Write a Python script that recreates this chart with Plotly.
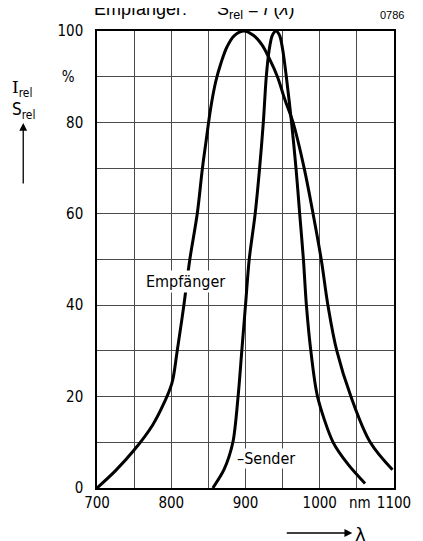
import plotly.graph_objects as go

# Receiver (Empfänger) relative spectral sensitivity
wl_empf = [700, 725, 750, 775, 790, 801, 808, 817, 825, 835, 842, 847, 853, 860, 867, 875, 885, 898,
           911, 922, 932, 943, 953, 964, 979, 991, 1002, 1011, 1023, 1042, 1068, 1098]
val_empf = [0, 3.8, 8.3, 13.8, 18.5, 23, 30, 40, 50, 60, 70, 76, 83, 89, 93, 96.5, 99, 100,
            99, 97, 94, 90, 85, 80, 70, 60, 50, 40, 30, 20, 10, 4]

# Emitter (Sender) relative intensity
wl_send = [856, 871, 883, 890, 895, 900, 905, 913, 919, 924, 928, 932, 936, 941, 946, 950,
           955, 962, 968, 973, 978, 982, 988, 997, 1018, 1039, 1061]
val_send = [0, 4, 10, 20, 30, 40, 50, 60, 70, 80, 90, 96, 99, 100, 99, 96,
            90, 80, 70, 60, 50, 40, 30, 20, 10, 5, 1]

x_ticks = [700, 750, 800, 850, 900, 950, 1000, 1050, 1100]
x_labels = ["700", "", "800", "", "900", "", "1000", "", "1100"]
y_ticks = [0, 10, 20, 30, 40, 50, 60, 70, 80, 90, 100]
y_labels = ["0", "", "20", "", "40", "", "60", "", "80", "%\u00a0\u00a0", "100"]

DIN = "DejaVu Sans Condensed, Liberation Sans Narrow, DejaVu Sans, sans-serif"
HELV = "Liberation Sans, Arial, sans-serif"

fig = go.Figure()
fig.add_trace(go.Scatter(x=wl_empf, y=val_empf, mode="lines",
                         line=dict(color="black", width=3, shape="spline", smoothing=1.0),
                         hoverinfo="skip", showlegend=False))
fig.add_trace(go.Scatter(x=wl_send, y=val_send, mode="lines",
                         line=dict(color="black", width=3, shape="spline", smoothing=0.8),
                         hoverinfo="skip", showlegend=False))

OFF = 8  # page body margin
W, H = 423 - OFF, 541 - OFF
# plot area in page pixels: left 97, right 403, top 31, bottom 488
L, T = 97 - OFF, 31 - OFF
R = W - (403 - OFF)
B = H - (488 - OFF)
pw, ph = W - L - R, H - T - B


def px(xp):  # page pixel -> paper x
    return (xp - OFF - L) / pw


def py(yp):  # page pixel -> paper y
    return (H - B - (yp - OFF)) / ph


fig.update_layout(
    width=W, height=H, autosize=False,
    margin=dict(l=L, r=R, t=T, b=B, pad=0),
    paper_bgcolor="white", plot_bgcolor="white",
    xaxis=dict(range=[700, 1100], tickmode="array", tickvals=x_ticks, ticktext=x_labels,
               showgrid=True, gridcolor="#4a4a4a", gridwidth=1, zeroline=False,
               showline=True, linecolor="black", linewidth=1.5, mirror=True,
               ticks="", ticklabelstandoff=0,
               tickfont=dict(family=DIN, size=15, color="black")),
    yaxis=dict(range=[0, 100], tickmode="array", tickvals=y_ticks, ticktext=y_labels,
               showgrid=True, gridcolor="#4a4a4a", gridwidth=1, zeroline=False,
               showline=True, linecolor="black", linewidth=1.5, mirror=True,
               ticks="", ticklabelstandoff=9,
               tickfont=dict(family=DIN, size=15, color="black")),
)

ann = []
# title (partially cut at top in the original)
ann.append(dict(xref="paper", yref="paper", x=px(92), y=py(11), xanchor="left", yanchor="middle",
                text="Empfänger:&nbsp;&nbsp;&nbsp;&nbsp;&nbsp;&nbsp;S<sub>rel</sub> = <i>f</i> (<i>λ</i>)",
                showarrow=False, font=dict(family=HELV, size=18, color="black")))
ann.append(dict(xref="paper", yref="paper", x=px(401), y=py(15), xanchor="center", yanchor="middle",
                text="0786", showarrow=False, font=dict(family=HELV, size=11, color="black")))
# y-axis label
ann.append(dict(xref="paper", yref="paper", x=px(20), y=py(88), xanchor="center", yanchor="middle",
                text="<span style='font-family:DejaVu Serif'>I</span><sub>rel</sub>",
                showarrow=False, font=dict(family=DIN, size=17, color="black")))
ann.append(dict(xref="paper", yref="paper", x=px(21), y=py(110), xanchor="center", yanchor="middle",
                text="S<sub>rel</sub>", showarrow=False, font=dict(family=DIN, size=17, color="black")))
ann.append(dict(xref="paper", yref="paper", x=px(21), y=py(123), text="", showarrow=True,
                ax=0, ay=62, arrowhead=2, arrowsize=1.2, arrowwidth=1.3, arrowcolor="black"))
# x-axis unit and lambda arrow
ann.append(dict(xref="paper", yref="paper", x=px(368), y=py(503), xanchor="center", yanchor="middle",
                text="nm", showarrow=False, font=dict(family=DIN, size=15, color="black")))
ann.append(dict(xref="paper", yref="paper", x=px(360), y=py(533), text="", showarrow=True,
                ax=-67, ay=0, arrowhead=2, arrowsize=1.2, arrowwidth=1.3, arrowcolor="black"))
ann.append(dict(xref="paper", yref="paper", x=px(368), y=py(534), xanchor="center", yanchor="middle",
                text="λ", showarrow=False, font=dict(family="DejaVu Sans", size=18, color="black")))
# curve labels
ann.append(dict(xref="x", yref="y", x=819, y=45.1, xanchor="center", yanchor="middle",
                text="Empfänger", showarrow=False, bgcolor="white", borderpad=1,
                font=dict(family=DIN, size=16, color="black")))
ann.append(dict(xref="x", yref="y", x=928, y=6.4, xanchor="center", yanchor="middle",
                text="–Sender", showarrow=False, bgcolor="white", borderpad=0,
                font=dict(family=DIN, size=16, color="black")))
fig.update_layout(annotations=ann)

fig.write_html("out.html")
